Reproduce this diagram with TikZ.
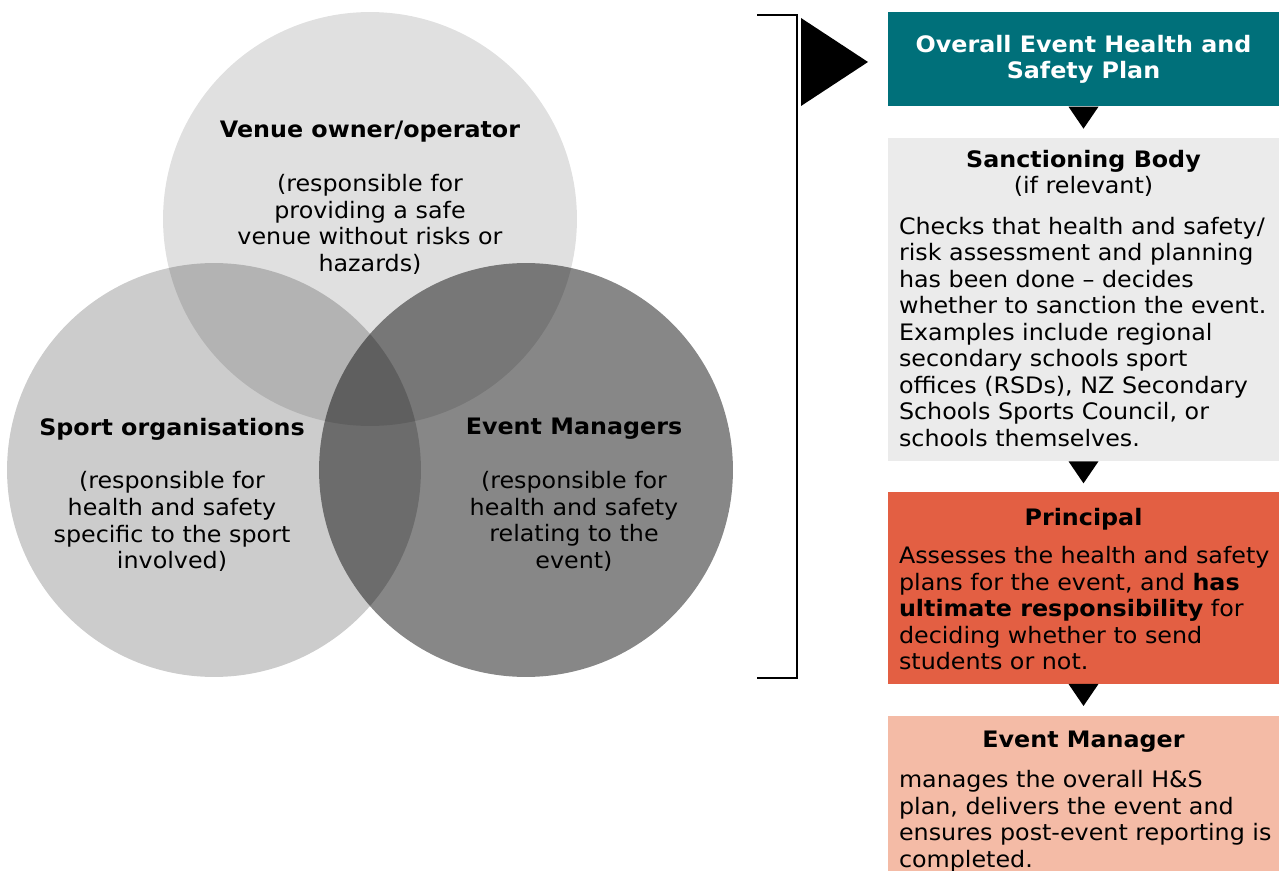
\documentclass[tikz,border=0pt]{standalone}
\usepackage{fontspec}
\setmainfont[FakeStretch=1.05]{DejaVu Sans}
\usetikzlibrary{positioning}
\usetikzlibrary{calc}
\definecolor{planteal}{HTML}{00707A}
\definecolor{sanctiongrey}{HTML}{EBEBEB}
\definecolor{principalred}{HTML}{E35F43}
\definecolor{managerpink}{HTML}{F4BBA6}
\tikzset{circ/.style={circle, minimum size=8.28cm, inner sep=0pt, fill=black}}
\tikzset{txt/.style={align=center, inner sep=0pt, font=\fontsize{12.9}{15.1}\selectfont}}
\tikzset{head/.style={txt, font=\fontsize{12.9}{15.1}\selectfont\bfseries}}
\tikzset{body/.style={align=left, inner sep=0pt, anchor=north west, font=\fontsize{12.9}{15.1}\selectfont}}
\tikzset{box/.style={minimum width=7.82cm, inner sep=0pt, anchor=north}}
\tikzset{pointer/.style={fill=black}}

\begin{document}
\begin{tikzpicture}[x=0.02cm, y=-0.02cm]
\useasboundingbox (0,0) rectangle (1279,871);

% venn part
\node[circ, fill opacity=0.20] (sport) at (214,470) {};
\node[circ, fill opacity=0.47] (event) at (526,470) {};
\node[circ, fill opacity=0.12] (venue) at (370,219) {};

\node[head] (venuehead) at (370,132) {Venue owner/operator};
\node[txt, below=0.62cm of venuehead] (venuetxt) {(responsible for\\providing a safe\\venue without risks or\\hazards)};
\node[head] (sporthead) at (172,429) {Sport organisations};
\node[txt, below=0.62cm of sporthead] (sporttxt) {(responsible for\\health and safety\\specific to the sport\\involved)};
\node[head] (eventhead) at (574,429) {Event Managers};
\node[txt, below=0.62cm of eventhead] (eventtxt) {(responsible for\\health and safety\\relating to the\\event)};

% bracket
\coordinate (btop) at (757,15);
\coordinate (bbot) at (757,678);
\draw[line width=1.4pt] (btop) -- ++(40,0) -- ++(0,663) -- (bbot);
\fill[pointer] (801,18) -- (868,62) -- (801,106) -- cycle;

% flow part
\node[box, fill=planteal, minimum height=1.88cm] (plan) at (1083.5,12) {};
\node[head, text=white] (planhead) at (plan.center) {Overall Event Health and\\Safety Plan};

\node[box, fill=sanctiongrey, minimum height=6.46cm, below=0.62cm of plan] (sanction) {};
\node[txt, below=0.24cm of sanction.north] (sanctionhead) {\textbf{Sanctioning Body}\\(if relevant)};
\node[body, below right=1.58cm and 0.22cm of sanction.north west] (sanctiontxt) {Checks that health and safety/\\risk assessment and planning\\has been done -- decides\\whether to sanction the event.\\Examples include regional\\secondary schools sport\\offices (RSDs), NZ Secondary\\Schools Sports Council, or\\schools themselves.};

\node[box, fill=principalred, minimum height=3.84cm, below=0.6cm of sanction] (principal) {};
\node[head, below=0.34cm of principal.north] (principalhead) {Principal};
\node[body, below right=1.1cm and 0.22cm of principal.north west] (principaltxt) {Assesses the health and safety\\plans for the event, and \textbf{has}\\\textbf{ultimate responsibility} for\\deciding whether to send\\students or not.};

\node[box, fill=managerpink, minimum height=3.2cm, below=0.64cm of principal] (manager) {};
\node[head, below=0.3cm of manager.north] (managerhead) {Event Manager};
\node[body, below right=1.08cm and 0.22cm of manager.north west] (managertxt) {manages the overall H\&S\\plan, delivers the event and\\ensures post-event reporting is\\completed.};

% pointers between boxes
\foreach \a/\b in {plan/sanction, sanction/principal, principal/manager}
  \fill[pointer] ($(\a.south)+(-15,0)$) -- ($(\a.south)+(15,0)$) -- ($(\a.south)+(0,22)$) -- cycle;
\end{tikzpicture}
\end{document}
